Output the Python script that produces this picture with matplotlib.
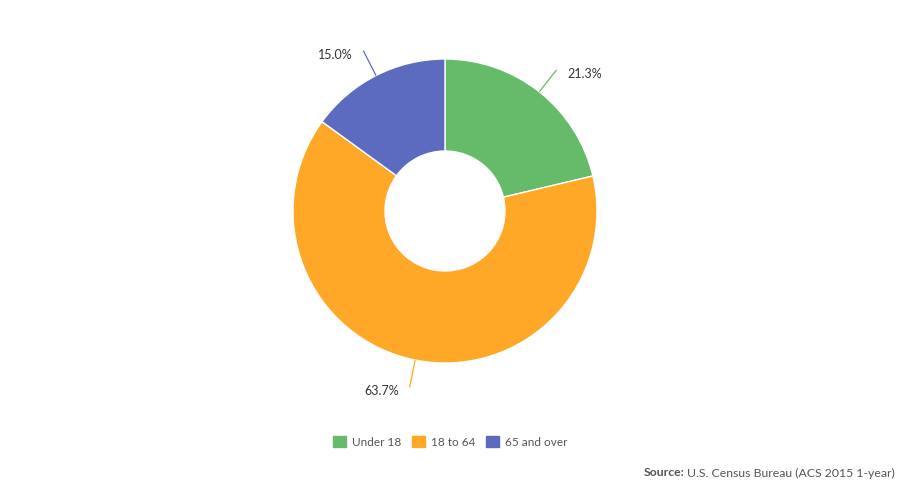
import numpy as np
import matplotlib
matplotlib.use("Agg")
from matplotlib import pyplot as plt
from matplotlib.patches import Patch

plt.rcParams['font.family'] = ['Lato', 'DejaVu Sans']

# data
grupos = ['Under 18', '18 to 64', '65 and over']
valores = [21.3, 63.7, 15.0]
cores = ['#66bb6a', '#ffa726', '#5c6bc0']
fonte_bold = 'Source:'
fonte_texto = 'U.S. Census Bureau (ACS 2015 1-year)'

W, H = 904, 484
fig = plt.figure(figsize=(W / 100, H / 100), dpi=100)

# axes em pixels: centro da pizza em (445, 211) a partir do topo
cx, cy = 445, 211
meio = 200
ax = fig.add_axes([(cx - meio) / W, (H - cy - meio) / H, 2 * meio / W, 2 * meio / H])
r_ext, r_int = 152, 60
wedges, _ = ax.pie(valores, colors=cores, startangle=90, counterclock=False,
                   radius=r_ext, wedgeprops=dict(width=r_ext - r_int, edgecolor='white', linewidth=1))
ax.set_xlim(-meio, meio)
ax.set_ylim(-meio, meio)
ax.set_aspect('equal')
ax.axis('off')

# rótulos com linhas de ligação
for w, v, c in zip(wedges, valores, cores):
    ang = np.deg2rad((w.theta1 + w.theta2) / 2)
    x0, y0 = r_ext * np.cos(ang), r_ext * np.sin(ang)
    x1, y1 = 180 * np.cos(ang), 180 * np.sin(ang)
    ax.plot([x0, x1], [y0, y1], color=c, lw=0.9, solid_capstyle='butt')
    if x1 >= 0:
        ax.text(x1 + 11, y1 - 4, '{:.1f}%'.format(v), ha='left', va='center', fontsize=9, color='#333333')
    else:
        ax.text(x1 - 11, y1 - 4, '{:.1f}%'.format(v), ha='right', va='center', fontsize=9, color='#333333')

# legenda
handles = [Patch(facecolor=c, edgecolor=c, label=g) for g, c in zip(grupos, cores)]
leg = fig.legend(handles=handles, loc='center', bbox_to_anchor=(450 / W, 1 - 442 / H), ncol=3,
                 frameon=False, fontsize=8.5, handlelength=1.1, handleheight=1.1, handletextpad=0.5,
                 columnspacing=0.9)
for t in leg.get_texts():
    t.set_color('#555555')

# fonte
fig.canvas.draw()
renderer = fig.canvas.get_renderer()
t2 = fig.text(895 / W, 1 - 473 / H, fonte_texto, ha='right', va='center', fontsize=8.8, color='#555555')
bb = t2.get_window_extent(renderer)
fig.text((bb.x0 - 3) / W, 1 - 473 / H, fonte_bold, ha='right', va='center', fontsize=8.8,
         color='#555555', fontweight='bold')

plt.savefig('out.png', dpi=100)
plt.close()
